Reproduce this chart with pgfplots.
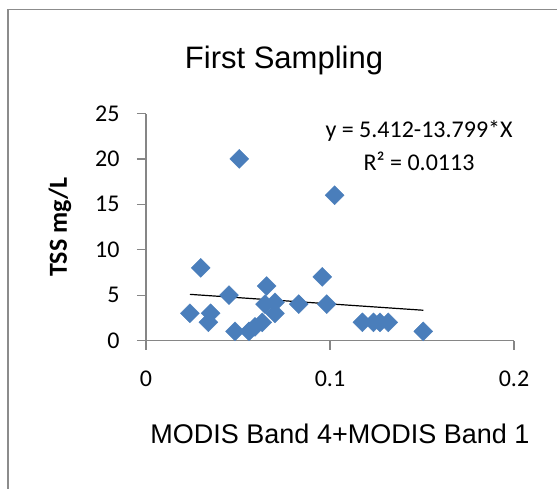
\documentclass[border=0pt]{standalone}
\usepackage{pgfplots}
\pgfplotsset{compat=1.18}
\usepackage{fontspec}
\setmainfont{Carlito}
\newfontfamily\arial{Liberation Sans}
\definecolor{mkblue}{RGB}{74,126,187}
\definecolor{axgray}{RGB}{134,134,134}
\definecolor{framegray}{RGB}{140,140,140}
\begin{document}
\begin{tikzpicture}[x=1pt,y=1pt]
\useasboundingbox (0,0) rectangle (557,488);
\draw[framegray, line width=1.4pt] (7.8,-5) -- (7.8,478.5) -- (565,478.5);
\begin{axis}[
  at={(146pt,147.5pt)}, anchor=south west,
  scale only axis, width=368pt, height=227pt,
  xmin=0, xmax=0.2, ymin=0, ymax=25,
  axis x line=bottom, axis y line=left,
  axis line style={axgray, line width=1.2pt, -},
  xtick={0,0.1,0.2}, ytick={0,5,10,15,20,25},
  tick align=outside, major tick length=9pt,
  tick style={axgray, line width=1.2pt},
  /pgf/number format/assume math mode=true,
  ticklabel style={font=\fontsize{24}{28}\selectfont, text=black},
  xticklabel style={yshift=-18pt},
  yticklabel style={xshift=-14pt},
  xlabel={\arial MODIS Band 4+MODIS Band 1},
  xlabel style={at={(axis description cs:0.527,-0.452)}, anchor=base, font=\fontsize{27}{32}\selectfont},
  ylabel={\bfseries TSS mg/L},
  ylabel style={at={(axis description cs:-0.234,0.5)}, anchor=center, rotate=0, font=\fontsize{26}{30}\selectfont},
  title={\arial First Sampling},
  title style={at={(axis description cs:0.375,1.174)}, anchor=base, font=\fontsize{31}{36}\selectfont},
  clip=false,
]
\addplot[only marks, mark=square*, mark size=6.7pt, mark options={rotate=45, fill=mkblue, draw=mkblue}] coordinates {
(0.0239,3) (0.0297,8) (0.0507,20) (0.0351,3) (0.0339,2) (0.0451,5)
(0.0484,1) (0.0560,1) (0.0592,1.5) (0.0632,2) (0.0656,6) (0.0647,4)
(0.0701,4.2) (0.0701,3) (0.0830,4) (0.0958,7) (0.0982,4) (0.1025,16)
(0.1176,2) (0.1236,2) (0.1272,2) (0.1317,2) (0.1507,1)
};
\addplot[black, line width=1.2pt] coordinates {(0.0239,5.082) (0.1507,3.332)};
\node[anchor=base, font=\fontsize{24}{28}\selectfont] at (axis description cs:0.742,0.896) {y = 5.412-13.799*X};
\node[anchor=base, font=\fontsize{24}{28}\selectfont] at (axis description cs:0.742,0.751) {R² = 0.0113};
\end{axis}
\end{tikzpicture}
\end{document}
